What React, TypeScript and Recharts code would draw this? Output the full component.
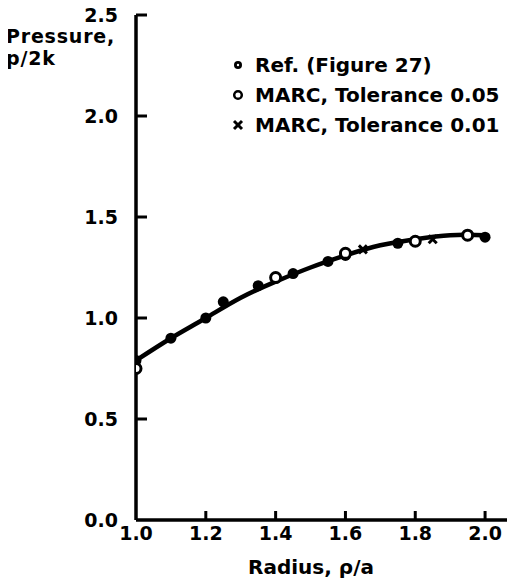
import {
  ComposedChart,
  Line,
  Scatter,
  XAxis,
  YAxis,
  Legend,
} from "recharts";

const FONT = "'DejaVu Sans', sans-serif";

// smooth reference curve
const curveRadius = [1.0, 1.1, 1.2, 1.3, 1.4, 1.5, 1.6, 1.7, 1.8, 1.9, 2.0];
const curvePressure = [0.79, 0.9, 1.0, 1.1, 1.18, 1.25, 1.31, 1.36, 1.39, 1.41, 1.41];

// Ref. (Figure 27)
const refRadius = [1.0, 1.1, 1.2, 1.25, 1.35, 1.45, 1.55, 1.6, 1.75, 2.0];
const refPressure = [0.79, 0.9, 1.0, 1.08, 1.16, 1.22, 1.28, 1.31, 1.37, 1.4];

// MARC, Tolerance 0.05
const tol05Radius = [1.0, 1.4, 1.6, 1.8, 1.95];
const tol05Pressure = [0.75, 1.2, 1.32, 1.38, 1.41];

// MARC, Tolerance 0.01
const tol01Radius = [1.65, 1.85];
const tol01Pressure = [1.34, 1.39];

const xTicks = [1.0, 1.2, 1.4, 1.6, 1.8, 2.0];
const yTicks = [0, 0.5, 1.0, 1.5, 2.0, 2.5];

const legendLabels = ["Ref. (Figure 27)", "MARC, Tolerance 0.05", "MARC, Tolerance 0.01"];

const zip = (xs: number[], ys: number[]) => xs.map((x, i) => ({ x, y: ys[i] }));

const curve = zip(curveRadius, curvePressure);
const ref = zip(refRadius, refPressure);
const tol05 = zip(tol05Radius, tol05Pressure);
const tol01 = zip(tol01Radius, tol01Pressure);

const FilledDot = (props: any) => (
  <circle cx={props.cx} cy={props.cy} r={5.5} fill="#000" />
);

const OpenDot = (props: any) => (
  <circle cx={props.cx} cy={props.cy} r={5} fill="#fff" stroke="#000" strokeWidth={3} />
);

const Cross = (props: any) => {
  const { cx, cy } = props;
  const s = 4;
  return (
    <g stroke="#000" strokeWidth={3}>
      <line x1={cx - s} y1={cy - s} x2={cx + s} y2={cy + s} />
      <line x1={cx - s} y1={cy + s} x2={cx + s} y2={cy - s} />
    </g>
  );
};

const YTick = (props: any) => {
  const { x, y, payload } = props;
  return (
    <g>
      {payload.value !== 0 && (
        <line x1={x} x2={x + 11} y1={y} y2={y} stroke="#000" strokeWidth={3} />
      )}
      <text
        x={x - 18}
        y={y}
        textAnchor="end"
        dominantBaseline="central"
        fontFamily={FONT}
        fontWeight="bold"
        fontSize={19}
        fill="#000"
      >
        {payload.value.toFixed(1)}
      </text>
    </g>
  );
};

const XTick = (props: any) => {
  const { x, y, payload } = props;
  return (
    <g>
      {payload.value !== 1 && (
        <line x1={x} x2={x} y1={y} y2={y - 9} stroke="#000" strokeWidth={3} />
      )}
      <text
        x={x}
        y={y + 20}
        textAnchor="middle"
        fontFamily={FONT}
        fontWeight="bold"
        fontSize={19}
        fill="#000"
      >
        {payload.value.toFixed(1)}
      </text>
    </g>
  );
};

const YLabel = () => (
  <g fontFamily={FONT} fontWeight="bold" fontSize={19} fill="#000">
    <text x={6} y={43} textAnchor="start" letterSpacing={0.8}>Pressure,</text>
    <text x={6} y={65} textAnchor="start" letterSpacing={0.8}>p/2k</text>
  </g>
);

const XLabel = () => (
  <text
    x={311}
    y={574}
    textAnchor="middle"
    fontFamily={FONT}
    fontWeight="bold"
    fontSize={20}
    fill="#000"
  >
    Radius, ρ/a
  </text>
);

const legendMarkers = [
  <g>
    <circle cx={8} cy={8} r={4} fill="#000" />
    <circle cx={8} cy={8} r={1.2} fill="#fff" />
  </g>,
  <circle cx={8} cy={8} r={3.8} fill="#fff" stroke="#000" strokeWidth={2.5} />,
  <g stroke="#000" strokeWidth={3}>
    <line x1={4} y1={4} x2={12} y2={12} />
    <line x1={4} y1={12} x2={12} y2={4} />
  </g>,
];

const LegendBox = () => (
  <div style={{ fontFamily: FONT, fontWeight: "bold", fontSize: 20, color: "#000" }}>
    {legendLabels.map((label, i) => (
      <div key={label} style={{ display: "flex", alignItems: "center", height: 30 }}>
        <svg width={16} height={16} style={{ marginRight: 9 }}>
          {legendMarkers[i]}
        </svg>
        <span>{label}</span>
      </div>
    ))}
  </div>
);

export default function App() {
  return (
    <div style={{ margin: "-8px 0 0 -8px", background: "#fff" }}>
      <ComposedChart
        width={515}
        height={586}
        margin={{ top: 15, right: 2, left: 0, bottom: 0 }}
      >
        <XAxis
          type="number"
          dataKey="x"
          domain={[1, 2.08]}
          ticks={xTicks}
          allowDataOverflow
          height={66}
          tickSize={0}
          tickMargin={0}
          tickLine={false}
          axisLine={{ stroke: "#000", strokeWidth: 3.5 }}
          tick={<XTick />}
          label={<XLabel />}
        />
        <YAxis
          type="number"
          dataKey="y"
          domain={[0, 2.5]}
          ticks={yTicks}
          width={136}
          tickSize={0}
          tickMargin={0}
          tickLine={false}
          axisLine={{ stroke: "#000", strokeWidth: 3.5 }}
          tick={<YTick />}
          label={<YLabel />}
        />
        <Legend
          verticalAlign="middle"
          align="center"
          content={<LegendBox />}
          wrapperStyle={{ position: "absolute", left: 230, top: 50, width: 290 }}
        />
        <Line
          data={curve}
          dataKey="y"
          type="natural"
          stroke="#000"
          strokeWidth={4.5}
          dot={false}
          activeDot={false}
          legendType="none"
          isAnimationActive={false}
        />
        <Scatter data={ref} dataKey="y" shape={<FilledDot />} isAnimationActive={false} />
        <Scatter data={tol05} dataKey="y" shape={<OpenDot />} isAnimationActive={false} />
        <Scatter data={tol01} dataKey="y" shape={<Cross />} isAnimationActive={false} />
      </ComposedChart>
    </div>
  );
}
